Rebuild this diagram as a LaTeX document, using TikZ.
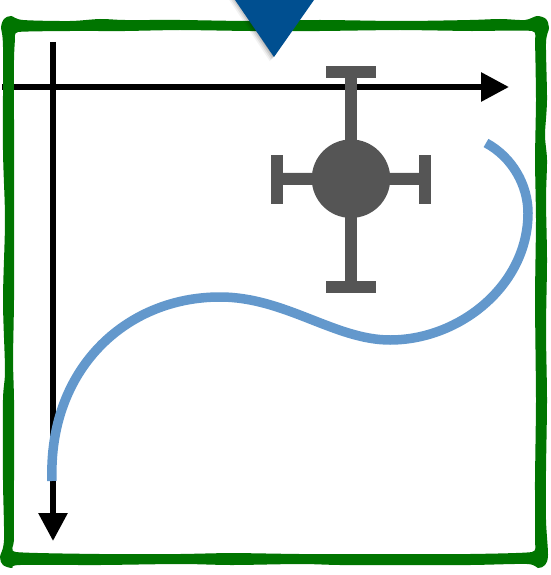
\documentclass[tikz,border=0pt]{standalone}
\definecolor{framegreen}{RGB}{0,117,0}
\definecolor{markerblue}{RGB}{0,79,144}
\definecolor{curveblue}{RGB}{99,152,204}
\definecolor{hubgray}{RGB}{85,85,85}
\usetikzlibrary{arrows.meta}
\tikzset{
  axisline/.style={line width=6pt, -{Triangle[length=28pt,width=28pt]}},
  armline/.style={hubgray, line width=12pt},
}

\begin{document}
\begin{tikzpicture}[x=1pt,y=-1pt]
\useasboundingbox (0,0) rectangle (550,575);

% --- Axes ---
\coordinate (xstart) at (2,87);
\coordinate (xend) at (509,87);
\coordinate (ystart) at (53,42);
\coordinate (yend) at (53,541);
\draw[axisline] (xstart) -- (xend);
\draw[axisline] (ystart) -- (yend);

% --- Frame ---
\fill[framegreen, even odd rule]
  plot[smooth cycle, tension=0.5] coordinates {
    (1,28) (4,19) (11,16) (23,20) (70,21) (100,19) (125,20) (180,20) (250,21)
    (320,20) (400,21) (470,20) (500,19) (525,20) (537,16) (546,19) (549,28)
    (546,43) (547,100) (545,135) (547,160) (546,200) (547,260) (546,330)
    (547,400) (546,470) (546,520) (548,555) (545,565) (538,568) (527,564)
    (470,565) (400,565) (340,565) (300,564) (232,565) (180,564) (100,565)
    (20,565) (12,568) (3,565) (0,557) (4,540) (3,480) (3,400) (5,370) (3,300)
    (5,220) (3,150) (3,47)
  }
  plot[smooth cycle, tension=0.3] coordinates {
    (15,40) (18,32) (70,31) (125,31) (180,30) (250,31) (320,31) (400,30)
    (470,31) (532,31) (535,43) (536,100) (535,160) (536,220) (535,300)
    (536,400) (535,480) (535,540) (532,552) (470,554) (400,554) (300,554)
    (232,553) (180,554) (100,554) (16,552) (14,540) (14,480) (14,400)
    (13,360) (14,300) (14,200) (14,120) (14,60)
  };

% --- Marker ---
\foreach \s/\o in {7/0.05,5/0.08,3/0.1,1/0.12}{
  \fill[black, opacity=\o] (235-\s,-2) -- (274-\s*0.6,57+\s*0.6) -- (314,-2) -- cycle;
}
\fill[markerblue] (235,0) -- (274,57) -- (314,0) -- cycle;

% --- Hub with four arms ---
\coordinate (topcap) at (351,71.7);
\coordinate (bottomcap) at (351,286.5);
\coordinate (leftcap) at (276.5,179);
\coordinate (rightcap) at (425.2,179);
\node[circle, fill=hubgray, minimum size=78.5pt, inner sep=0pt] (hub) at (351,178.7) {};
\draw[armline] (hub.center) -- (topcap);
\draw[armline] (hub.center) -- (bottomcap);
\draw[armline] (hub.center) -- (leftcap);
\draw[armline] (hub.center) -- (rightcap);
\draw[armline] ([xshift=-25pt]topcap) -- ([xshift=25pt]topcap);
\draw[armline] ([xshift=-25pt]bottomcap) -- ([xshift=25pt]bottomcap);
\draw[armline] ([yshift=-24.5pt]leftcap) -- ([yshift=24.5pt]leftcap);
\draw[armline] ([yshift=-24.5pt]rightcap) -- ([yshift=24.5pt]rightcap);

% --- Curve ---
\coordinate (curvestart) at (486,143);
\coordinate (curveend) at (52,481);
\draw[curveblue, line width=9.5pt] (curvestart)
  .. controls (512,157) and (528,185) .. (528,213)
  .. controls (528,285) and (460,340) .. (390,340)
  .. controls (335,340) and (285,297) .. (220,297)
  .. controls (125,297) and (48,370) .. (curveend);

\end{tikzpicture}
\end{document}
